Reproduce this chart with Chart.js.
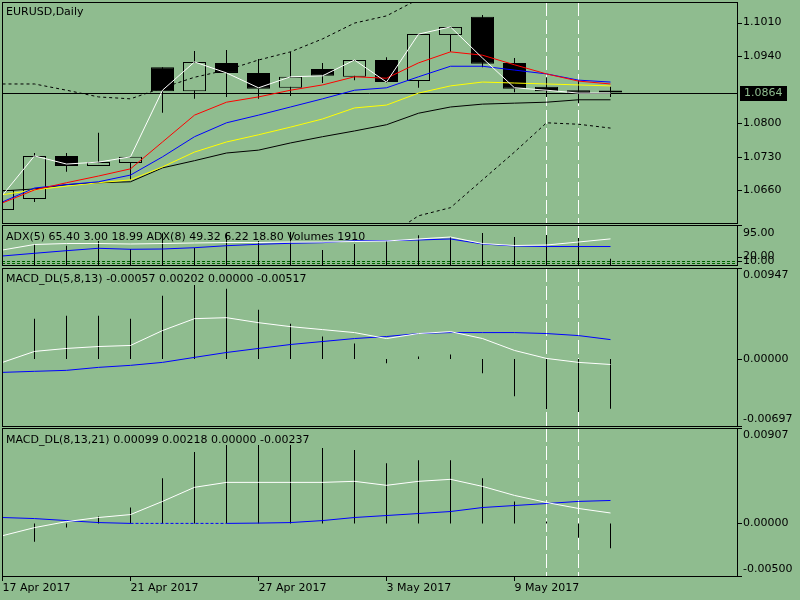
<!DOCTYPE html>
<html>
<head>
<meta charset="utf-8">
<script src="https://cdn.jsdelivr.net/npm/chart.js@4.4.0/dist/chart.umd.min.js"></script>
<style>
  html, body { margin: 0; padding: 0; background: #8FBC8F; width: 800px; height: 600px; overflow: hidden; }
  canvas { position: absolute; left: 0; }
</style>
</head>
<body>
<canvas id="main" width="800" height="226" style="top:0px"></canvas>
<canvas id="adx" width="800" height="42" style="top:224px"></canvas>
<canvas id="macd1" width="800" height="160" style="top:267px"></canvas>
<canvas id="macd2" width="800" height="173" style="top:427px"></canvas>
<script>
// EURUSD daily, 17 Apr - 12 May 2017
const dateLabels = ['17 Apr 2017','18 Apr 2017','19 Apr 2017','20 Apr 2017','21 Apr 2017',
  '24 Apr 2017','25 Apr 2017','26 Apr 2017','27 Apr 2017','28 Apr 2017',
  '1 May 2017','2 May 2017','3 May 2017','4 May 2017','5 May 2017',
  '8 May 2017','9 May 2017','10 May 2017','11 May 2017','12 May 2017'];
const axisTickIdx = [0, 4, 8, 12, 16];
const markerIdx = [17, 18]; // white dashed verticals

const open  = [1.0619, 1.0642, 1.0732, 1.0711, 1.0717, 1.0917, 1.0867, 1.0926, 1.0905, 1.0874, 1.0913, 1.0897, 1.0932, 1.0888, 1.0984, 1.1022, 1.0926, 1.0876, 1.0869, 1.0865];
const high  = [1.0665, 1.0738, 1.0738, 1.0780, 1.0730, 1.0917, 1.0951, 1.0953, 1.0934, 1.0949, 1.0926, 1.0932, 1.0938, 1.0986, 1.1001, 1.1026, 1.0936, 1.0896, 1.0890, 1.0876];
const low   = [1.0615, 1.0636, 1.0699, 1.0711, 1.0682, 1.0822, 1.0851, 1.0855, 1.0851, 1.0857, 1.0884, 1.0890, 1.0884, 1.0874, 1.0949, 1.0917, 1.0865, 1.0855, 1.0842, 1.0855];
const close = [1.0661, 1.0732, 1.0711, 1.0719, 1.0730, 1.0867, 1.0928, 1.0905, 1.0872, 1.0897, 1.0899, 1.0932, 1.0886, 1.0986, 1.1001, 1.0924, 1.0872, 1.0867, 1.0863, 1.0864];

const fastLine = [1.0650, 1.0732, 1.0715, 1.0719, 1.0730, 1.0869, 1.0928, 1.0905, 1.0874, 1.0897, 1.0899, 1.0932, 1.0886, 1.0986, 1.1001, 1.0936, 1.0874, 1.0869, 1.0863, 1.0863];
const maRed    = [1.0634, 1.0661, 1.0676, 1.0690, 1.0705, 1.0761, 1.0817, 1.0844, 1.0855, 1.0869, 1.0880, 1.0897, 1.0894, 1.0926, 1.0949, 1.0942, 1.0922, 1.0903, 1.0888, 1.0882];
const maBlue   = [1.0636, 1.0665, 1.0672, 1.0678, 1.0692, 1.0730, 1.0772, 1.0801, 1.0817, 1.0834, 1.0851, 1.0869, 1.0874, 1.0897, 1.0919, 1.0919, 1.0911, 1.0903, 1.0890, 1.0886];
const maYellow = [1.0651, 1.0661, 1.0669, 1.0676, 1.0682, 1.0709, 1.0740, 1.0761, 1.0776, 1.0792, 1.0809, 1.0832, 1.0838, 1.0863, 1.0878, 1.0886, 1.0884, 1.0882, 1.0880, 1.0878];
const maBlack  = [1.0659, 1.0663, 1.0672, 1.0676, 1.0678, 1.0707, 1.0722, 1.0738, 1.0744, 1.0759, 1.0772, 1.0784, 1.0797, 1.0821, 1.0834, 1.0840, 1.0842, 1.0844, 1.0849, 1.0849];
const upperBand = [1.0882, 1.0882, 1.0869, 1.0855, 1.0851, 1.0874, 1.0896, 1.0911, 1.0932, 1.0949, 1.0976, 1.1009, 1.1024, 1.1059, 1.1085, 1.1105, 1.1115, 1.1120, 1.1122, 1.1122];
const lowerBand = [1.0400, 1.0410, 1.0420, 1.0430, 1.0440, 1.0450, 1.0460, 1.0470, 1.0480, 1.0500, 1.0520, 1.0540, 1.0563, 1.0607, 1.0624, 1.0682, 1.0740, 1.0801, 1.0798, 1.0790];

const adx5 = [35.6, 48.7, 51.0, 51.0, 49.9, 51.0, 52.3, 53.4, 53.4, 54.6, 54.6, 55.8, 57.0, 61.8, 66.5, 51.0, 46.3, 47.5, 54.6, 62.0];
const adx8 = [21.4, 27.8, 34.0, 39.7, 37.3, 38.0, 41.1, 45.8, 49.2, 51.5, 53.0, 57.7, 57.7, 59.4, 61.8, 49.9, 45.1, 43.9, 43.9, 43.9];
const volumes = [null, 6510, 5980, 7440, 4960, 9830, 5360, 9920, 7440, 10230, 4650, 6510, 7440, 9210, 8680, 9920, 8680, 9300, 8370, 1910];
const adxLevels = [10, 5];

const hist1  = [null, 0.00420, 0.00451, 0.00451, 0.00420, 0.00658, 0.00771, 0.00730, 0.00513, 0.00368, 0.00234, 0.00161, -0.00045, 0.00027, 0.00048, -0.00149, -0.00387, -0.00521, -0.00552, -0.00517];
const white1 = [-0.00035, 0.00079, 0.00110, 0.00130, 0.00141, 0.00296, 0.00420, 0.00430, 0.00378, 0.00337, 0.00306, 0.00275, 0.00213, 0.00265, 0.00285, 0.00213, 0.00089, 0.00006, -0.00035, -0.00057];
const blue1  = [-0.00139, -0.00128, -0.00118, -0.00087, -0.00066, -0.00035, 0.00017, 0.00068, 0.00110, 0.00151, 0.00182, 0.00213, 0.00234, 0.00265, 0.00275, 0.00275, 0.00275, 0.00265, 0.00244, 0.00202];

const hist2  = [null, -0.00174, -0.00040, 0.00065, 0.00151, 0.00429, 0.00678, 0.00745, 0.00745, 0.00745, 0.00716, 0.00697, 0.00572, 0.00601, 0.00601, 0.00429, 0.00209, 0.00017, -0.00136, -0.00237];
const white2 = [-0.00117, -0.00040, 0.00017, 0.00056, 0.00084, 0.00209, 0.00343, 0.00390, 0.00390, 0.00390, 0.00390, 0.00400, 0.00362, 0.00400, 0.00419, 0.00352, 0.00266, 0.00199, 0.00142, 0.00099];
const blue2  = [0.00056, 0.00046, 0.00027, 0.00008, 0, 0, 0, 0, 0.00003, 0.00008, 0.00027, 0.00056, 0.00075, 0.00094, 0.00113, 0.00151, 0.00170, 0.00189, 0.00209, 0.00218];

// right axis ticks
const priceTicks = [1.1010, 1.0940, 1.0800, 1.0730, 1.0660];
const adxTicks = [95, 20, 10];
const macd1Ticks = [0.00947, 0, -0.00697];
const macd2Ticks = [0.00907, 0, -0.00500];

const BG = '#8FBC8F';
const FONT = '11px "DejaVu Sans"';
const xMin = -0.5 / 32;
const xMax = xMin + 735 / 32;

const idx = close.map((_, i) => i);
const pts = arr => arr.map((v, i) => ({ x: i, y: v }));

function line(arr, color, order, dash) {
  return { type: 'line', data: pts(arr), borderColor: color, borderWidth: 1, borderDash: dash || [],
           pointRadius: 0, fill: false, tension: 0, order: order };
}
function stick(arr, order, axis) {
  return { type: 'bar', data: pts(arr), backgroundColor: '#000', borderWidth: 0, barThickness: 1,
           inflateAmount: 0, grouped: false, order: order, yAxisID: axis || 'y' };
}

const panelPlugin = {
  id: 'panel',
  beforeDatasetsDraw(chart, args, o) {
    const ctx = chart.ctx, a = chart.chartArea, xs = chart.scales.x, ys = chart.scales.y;
    ctx.save();
    ctx.beginPath();
    ctx.rect(a.left, a.top, a.right - a.left, a.bottom - a.top);
    ctx.clip();
    ctx.lineWidth = 1;
    (o.levels || []).forEach(v => {
      const py = Math.round(ys.getPixelForValue(v)) + 0.5;
      ctx.strokeStyle = '#006400';
      ctx.setLineDash([3, 2]);
      ctx.beginPath(); ctx.moveTo(a.left, py); ctx.lineTo(a.right, py); ctx.stroke();
    });
    ctx.strokeStyle = '#ffffff';
    ctx.setLineDash([14, 4]);
    markerIdx.forEach(i => {
      const px = xs.getPixelForValue(i);
      ctx.beginPath(); ctx.moveTo(px, a.top); ctx.lineTo(px, a.bottom); ctx.stroke();
    });
    if (o.priceLine !== undefined) {
      const py = Math.round(ys.getPixelForValue(o.priceLine)) + 0.5;
      ctx.setLineDash([]);
      ctx.strokeStyle = '#000';
      ctx.beginPath(); ctx.moveTo(a.left, py); ctx.lineTo(a.right, py); ctx.stroke();
    }
    ctx.restore();
  },
  afterDraw(chart, args, o) {
    const ctx = chart.ctx, a = chart.chartArea, ys = chart.scales.y;
    ctx.save();
    ctx.lineWidth = 1;
    ctx.strokeStyle = '#000';
    ctx.strokeRect(a.left + 0.5, a.top + 0.5, a.right - a.left, a.bottom - a.top);
    ctx.font = FONT;
    ctx.fillStyle = '#000';
    ctx.textBaseline = 'middle';
    ctx.textAlign = 'left';
    const ct = o.clamp || [7, 7];
    (o.ticks || []).forEach(v => {
      const py = ys.getPixelForValue(v);
      const ty = Math.round(py) + 0.5;
      ctx.beginPath(); ctx.moveTo(a.right + 1, ty); ctx.lineTo(a.right + 5, ty); ctx.stroke();
      const cy = Math.min(Math.max(py, a.top + ct[0]), a.bottom - ct[1]);
      ctx.fillText(v.toFixed(o.digits), a.right + 6, cy);
    });
    if (o.title) ctx.fillText(o.title, a.left + 4, a.top + (o.titleDy || 11));
    if (o.priceLine !== undefined) {
      const py = Math.round(ys.getPixelForValue(o.priceLine));
      ctx.fillStyle = '#000';
      ctx.fillRect(a.right + 3, py - 7, 47, 15);
      ctx.fillStyle = BG;
      ctx.fillText(o.priceLine.toFixed(4), a.right + 7, py + 0.5);
    }
    ctx.restore();
  }
};

function baseOptions(padTop, padBottom, yMin, yMax, panel) {
  return {
    responsive: false,
    animation: false,
    events: [],
    layout: { padding: { left: 2, right: 63, top: padTop, bottom: padBottom } },
    plugins: { legend: { display: false }, tooltip: { enabled: false }, panel: panel },
    scales: {
      x: { type: 'linear', min: xMin, max: xMax, offset: false, display: false, grid: { offset: false } },
      y: { type: 'linear', min: yMin, max: yMax, display: false }
    }
  };
}

// main price panel
new Chart(document.getElementById('main'), {
  type: 'bar',
  data: {
    datasets: [
      { type: 'bar', data: idx.map(i => ({ x: i, y: [low[i], high[i]] })), backgroundColor: '#000',
        borderWidth: 0, barThickness: 1, inflateAmount: 0, grouped: false, order: 20 },
      { type: 'bar', data: idx.map(i => ({ x: i, y: [open[i], close[i]] })),
        backgroundColor: idx.map(i => close[i] >= open[i] ? BG : '#000'),
        borderColor: '#000', borderWidth: 1, borderSkipped: false, barThickness: 23, minBarLength: 2,
        inflateAmount: 0, grouped: false, order: 19 },
      line(upperBand, '#000', 10, [3, 3]),
      line(lowerBand, '#000', 10, [3, 3]),
      line(maBlack, '#000', 6),
      line(maYellow, '#FFFF00', 5),
      line(maBlue, '#0000FF', 4),
      line(maRed, '#FF0000', 3),
      line(fastLine, '#FFFFFF', 2)
    ]
  },
  options: baseOptions(2, 3, 1.0592, 1.1053,
    { ticks: priceTicks, digits: 4, title: 'EURUSD,Daily', titleDy: 10, priceLine: close[close.length - 1] }),
  plugins: [panelPlugin]
});

// ADX + volumes panel
const adxOpts = baseOptions(1, 1, 0, 95,
  { ticks: adxTicks, digits: 2, clamp: [8, 3], levels: adxLevels, titleDy: 12,
    title: 'ADX(5) 65.40 3.00 18.99 ADX(8) 49.32 6.22 18.80 Volumes 1910' });
adxOpts.scales.yv = { type: 'linear', min: 0, max: 12400, display: false };
new Chart(document.getElementById('adx'), {
  type: 'bar',
  data: {
    datasets: [
      stick(volumes, 10, 'yv'),
      line(adx8, '#0000FF', 3),
      line(adx5, '#FFFFFF', 2)
    ]
  },
  options: adxOpts,
  plugins: [panelPlugin]
});

// MACD_DL(5,8,13)
new Chart(document.getElementById('macd1'), {
  type: 'bar',
  data: {
    datasets: [
      stick(hist1, 10),
      line(blue1, '#0000FF', 3),
      line(white1, '#FFFFFF', 2)
    ]
  },
  options: baseOptions(1, 1, -0.00697, 0.00947,
    { ticks: macd1Ticks, digits: 5, titleDy: 11,
      title: 'MACD_DL(5,8,13) -0.00057 0.00202 0.00000 -0.00517' }),
  plugins: [panelPlugin]
});

// MACD_DL(8,13,21) with the date axis
const m2Opts = baseOptions(1, 0, -0.00500, 0.00907,
  { ticks: macd2Ticks, digits: 5, titleDy: 12,
    title: 'MACD_DL(8,13,21) 0.00099 0.00218 0.00000 -0.00237' });
m2Opts.scales.x = {
  type: 'linear', min: xMin, max: xMax, offset: false, display: true, position: 'bottom',
  afterBuildTicks: s => { s.ticks = axisTickIdx.map(v => ({ value: v })); },
  afterFit: s => { s.height = 24; },
  ticks: { autoSkip: false, maxRotation: 0, minRotation: 0, align: 'start', padding: 1, color: '#000',
           font: { family: 'DejaVu Sans', size: 11 }, callback: v => dateLabels[v] },
  grid: { offset: false, drawOnChartArea: false, drawTicks: true, tickLength: 5, color: '#000' },
  border: { display: false }
};
const blue2Set = line(blue2, '#0000FF', 3);
blue2Set.segment = { borderDash: c => (c.p0.parsed.y === 0 && c.p1.parsed.y === 0) ? [3, 2] : undefined };
new Chart(document.getElementById('macd2'), {
  type: 'bar',
  data: {
    datasets: [
      stick(hist2, 10),
      blue2Set,
      line(white2, '#FFFFFF', 2)
    ]
  },
  options: m2Opts,
  plugins: [panelPlugin]
});
</script>
</body>
</html>
